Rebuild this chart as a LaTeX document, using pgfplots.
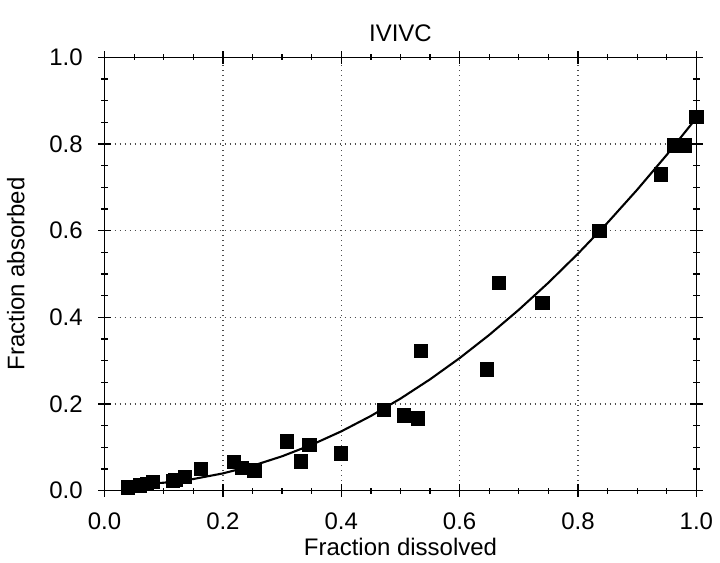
\documentclass[border=0pt]{standalone}
\usepackage{fontspec}
\setmainfont{Liberation Sans}
\usepackage{pgfplots}
\pgfplotsset{compat=1.18}

\begin{document}
\begin{tikzpicture}
\begin{axis}[
  scale only axis,
  width=284pt,
  height=208pt,
  xmin=0, xmax=1,
  ymin=0, ymax=1,
  xtick={0,0.2,...,1.0},
  ytick={0,0.2,...,1.0},
  minor tick num=3,
  tick align=center,
  major tick length=6pt,
  minor tick length=3pt,
  tick style={black, line width=0.6pt},
  axis line style={line width=0.7pt},
  xticklabel style={/pgf/number format/fixed,/pgf/number format/fixed zerofill,/pgf/number format/precision=1, yshift=-4pt},
  yticklabel style={/pgf/number format/fixed,/pgf/number format/fixed zerofill,/pgf/number format/precision=1, xshift=-4pt},
  /pgf/number format/assume math mode=true,
  tick label style={font=\fontsize{11.5}{14}\selectfont},
  label style={font=\fontsize{11.5}{14}\selectfont},
  title style={font=\fontsize{11.5}{14}\selectfont, yshift=-2pt},
  title={\rule{0pt}{16.5pt}IVIVC},
  xlabel={Fraction dissolved},
  ylabel={Fraction absorbed},
  xlabel shift=-3pt,
  ylabel shift=5pt,
  ymajorgrids, xmajorgrids,
  grid style={black!70, dotted, line width=0.7pt},
]
\addplot[black, line width=1pt, no marks] coordinates {
  (0.04,0.0142) (0.10,0.0185) (0.15,0.027) (0.20,0.040) (0.25,0.0575)
  (0.30,0.0795) (0.35,0.106) (0.40,0.137) (0.45,0.1725) (0.50,0.2125)
  (0.55,0.257) (0.60,0.306) (0.65,0.3595) (0.70,0.4175) (0.75,0.480)
  (0.80,0.547) (0.85,0.6185) (0.90,0.6945) (0.95,0.775) (1.00,0.860)
};
\addplot[only marks, mark=square*, mark size=3.2pt, black] coordinates {
  (0.040,0.008) (0.060,0.012) (0.072,0.015) (0.082,0.020) (0.115,0.022)
  (0.120,0.025) (0.136,0.032) (0.163,0.050) (0.219,0.066) (0.232,0.052)
  (0.253,0.047) (0.308,0.114) (0.332,0.068) (0.346,0.106) (0.399,0.086)
  (0.472,0.187) (0.506,0.174) (0.529,0.167) (0.534,0.322) (0.646,0.280)
  (0.666,0.480) (0.740,0.434) (0.836,0.600) (0.940,0.730) (0.963,0.797)
  (0.981,0.797) (1.000,0.862)
};
\end{axis}
\end{tikzpicture}
\end{document}
